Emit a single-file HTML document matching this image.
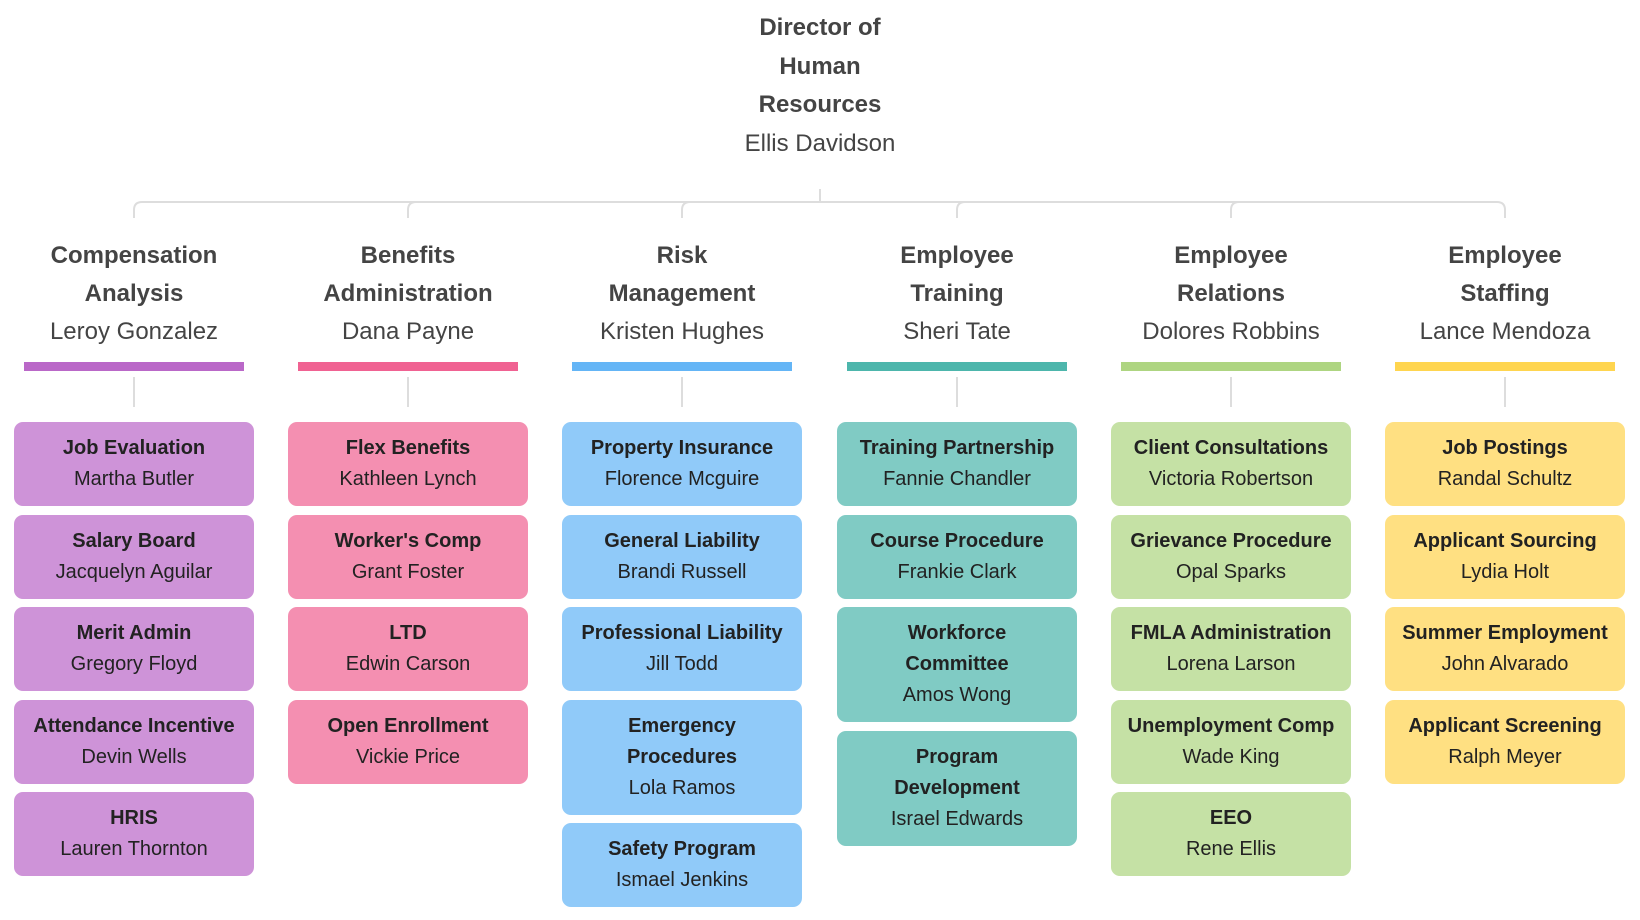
<!DOCTYPE html>
<html><head><meta charset="utf-8"><style>
body{margin:0;width:1640px;height:920px;background:#fff;font-family:"Liberation Sans",sans-serif;position:relative;overflow:hidden}
.t{position:absolute;text-align:center;color:#444}
.title{left:620px;width:400px;top:9px;font-size:24px;line-height:38.6px}
.col{position:absolute;top:237px;width:274px}
.hd{text-align:center;color:#444;font-size:24px;line-height:38px;height:118px}
.bar{position:absolute;top:362px;left:27px;width:220px;height:9px}
.boxes{position:absolute;top:422px;left:17px;width:240px}
.b{border-radius:9px;text-align:center;font-size:20px;line-height:31px;padding:11px 0;margin-bottom:8.5px;color:#222}
.b b{display:block}
</style></head><body>
<svg width="1640" height="920" style="position:absolute;left:0;top:0">
<g fill="none" stroke="#ddd" stroke-width="2">
<path d="M820 189V202"/>
<path d="M134 218V210Q134 202 142 202H1497Q1505 202 1505 210V218"/>
<path d="M408 218V210Q408 202 416 202M682 218V210Q682 202 690 202M957 218V210Q957 202 965 202M1231 218V210Q1231 202 1239 202"/>
<path d="M134 377V407M408 377V407M682 377V407M957 377V407M1231 377V407M1505 377V407"/>
</g></svg>
<div class="t title"><b>Director of<br>Human<br>Resources</b><br>Ellis Davidson</div>

<div class="col" style="left:-3px">
<div class="hd"><b>Compensation<br>Analysis</b><br>Leroy Gonzalez</div>
<div class="bar" style="background:#ba68c8;top:125px"></div>
<div class="boxes" style="top:185px">
<div class="b" style="background:#ce93d8"><b>Job Evaluation</b>Martha Butler</div>
<div class="b" style="background:#ce93d8"><b>Salary Board</b>Jacquelyn Aguilar</div>
<div class="b" style="background:#ce93d8"><b>Merit Admin</b>Gregory Floyd</div>
<div class="b" style="background:#ce93d8"><b>Attendance Incentive</b>Devin Wells</div>
<div class="b" style="background:#ce93d8"><b>HRIS</b>Lauren Thornton</div>
</div></div>

<div class="col" style="left:271px">
<div class="hd"><b>Benefits<br>Administration</b><br>Dana Payne</div>
<div class="bar" style="background:#f06292;top:125px"></div>
<div class="boxes" style="top:185px">
<div class="b" style="background:#f48fb1"><b>Flex Benefits</b>Kathleen Lynch</div>
<div class="b" style="background:#f48fb1"><b>Worker's Comp</b>Grant Foster</div>
<div class="b" style="background:#f48fb1"><b>LTD</b>Edwin Carson</div>
<div class="b" style="background:#f48fb1"><b>Open Enrollment</b>Vickie Price</div>
</div></div>

<div class="col" style="left:545px">
<div class="hd"><b>Risk<br>Management</b><br>Kristen Hughes</div>
<div class="bar" style="background:#64b5f6;top:125px"></div>
<div class="boxes" style="top:185px">
<div class="b" style="background:#90caf9"><b>Property Insurance</b>Florence Mcguire</div>
<div class="b" style="background:#90caf9"><b>General Liability</b>Brandi Russell</div>
<div class="b" style="background:#90caf9"><b>Professional Liability</b>Jill Todd</div>
<div class="b" style="background:#90caf9"><b>Emergency<br>Procedures</b>Lola Ramos</div>
<div class="b" style="background:#90caf9"><b>Safety Program</b>Ismael Jenkins</div>
</div></div>

<div class="col" style="left:820px">
<div class="hd"><b>Employee<br>Training</b><br>Sheri Tate</div>
<div class="bar" style="background:#4db6ac;top:125px"></div>
<div class="boxes" style="top:185px">
<div class="b" style="background:#80cbc4"><b>Training Partnership</b>Fannie Chandler</div>
<div class="b" style="background:#80cbc4"><b>Course Procedure</b>Frankie Clark</div>
<div class="b" style="background:#80cbc4"><b>Workforce<br>Committee</b>Amos Wong</div>
<div class="b" style="background:#80cbc4"><b>Program<br>Development</b>Israel Edwards</div>
</div></div>

<div class="col" style="left:1094px">
<div class="hd"><b>Employee<br>Relations</b><br>Dolores Robbins</div>
<div class="bar" style="background:#aed581;top:125px"></div>
<div class="boxes" style="top:185px">
<div class="b" style="background:#c5e1a5"><b>Client Consultations</b>Victoria Robertson</div>
<div class="b" style="background:#c5e1a5"><b>Grievance Procedure</b>Opal Sparks</div>
<div class="b" style="background:#c5e1a5"><b>FMLA Administration</b>Lorena Larson</div>
<div class="b" style="background:#c5e1a5"><b>Unemployment Comp</b>Wade King</div>
<div class="b" style="background:#c5e1a5"><b>EEO</b>Rene Ellis</div>
</div></div>

<div class="col" style="left:1368px">
<div class="hd"><b>Employee<br>Staffing</b><br>Lance Mendoza</div>
<div class="bar" style="background:#ffd54f;top:125px"></div>
<div class="boxes" style="top:185px">
<div class="b" style="background:#ffe082"><b>Job Postings</b>Randal Schultz</div>
<div class="b" style="background:#ffe082"><b>Applicant Sourcing</b>Lydia Holt</div>
<div class="b" style="background:#ffe082"><b>Summer Employment</b>John Alvarado</div>
<div class="b" style="background:#ffe082"><b>Applicant Screening</b>Ralph Meyer</div>
</div></div>
</body></html>
